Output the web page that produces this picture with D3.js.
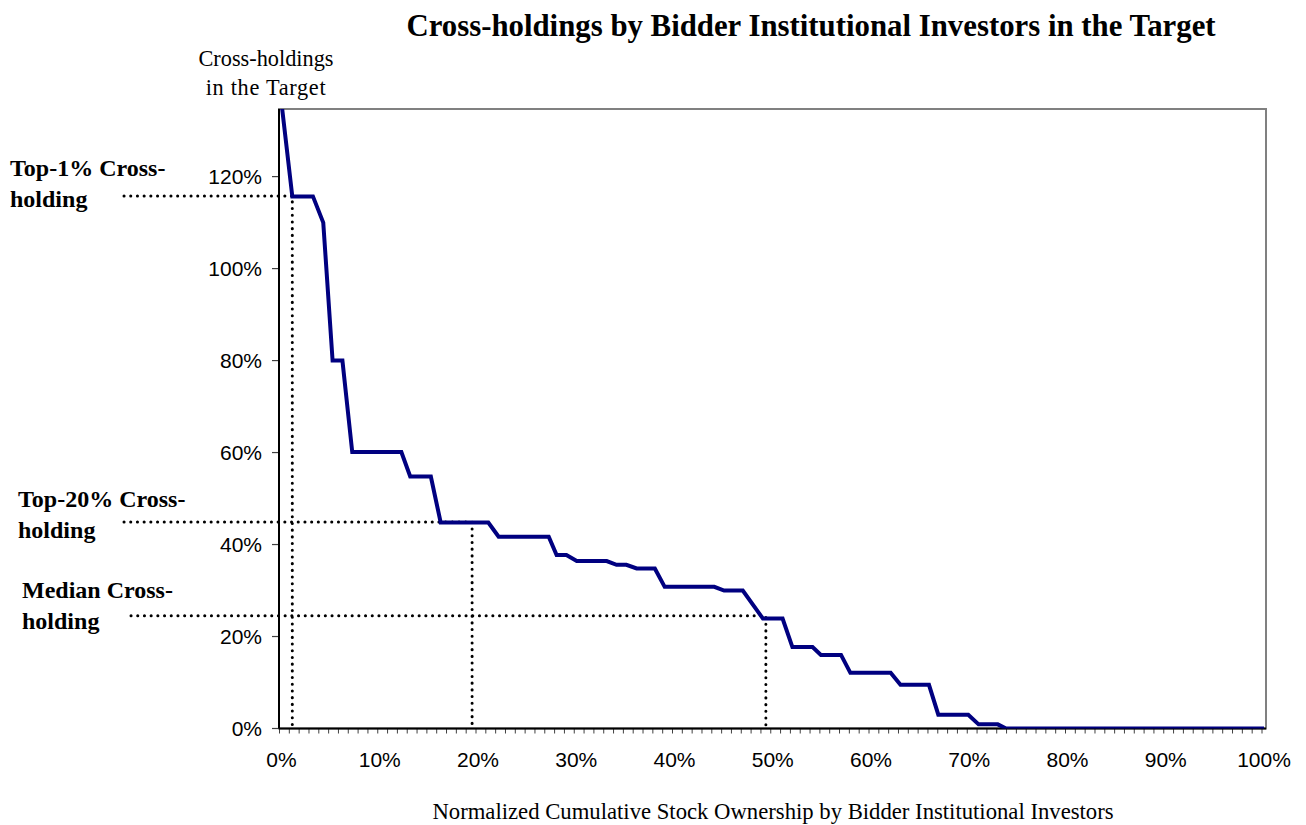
<!DOCTYPE html>
<html>
<head>
<meta charset="utf-8">
<script src="https://cdn.jsdelivr.net/npm/d3@7"></script>
<style>
  body { margin: 0; background: #fff; }
  svg { display: block; }
</style>
</head>
<body>
<div id="chart"></div>
<script>
// cumulative ownership (%)
const ownershipPct = [0, 1.1, 3.2, 4.25, 5.2, 6.2, 7.2, 12.2, 13.1, 15.2, 16.2, 21.05, 22.1, 27.2, 28.0, 29.0, 30.05,
  33.1, 34.1, 35.1, 36.15, 38.0, 39.0, 44.05, 45.05, 46.95, 49.0, 51.0, 52.0, 54.05, 54.9, 56.95, 57.9,
  62.0, 63.0, 65.9, 66.85, 69.9, 70.95, 72.9, 73.75, 100];
// cross-holdings in the target (%)
const crossHolding = [136, 115.7, 115.7, 110.0, 80.0, 80.0, 60.1, 60.1, 54.8, 54.8, 44.8, 44.8, 41.7, 41.7, 37.7, 37.7, 36.4,
  36.4, 35.6, 35.6, 34.8, 34.8, 30.8, 30.8, 30.0, 30.0, 23.9, 23.9, 17.7, 17.7, 16.0, 16.0, 12.1,
  12.1, 9.5, 9.5, 3.0, 3.0, 0.9, 0.9, 0, 0];

const yTicks = [0, 20, 40, 60, 80, 100, 120];
const xTicks = [0, 10, 20, 30, 40, 50, 60, 70, 80, 90, 100];

// reference markers: label lines, ownership x, holding y
const markerLabels = [["Top-1% Cross-", "holding"], ["Top-20% Cross-", "holding"], ["Median Cross-", "holding"]];
const markerX = [1.1, 19.4, 49.3];
const markerY = [115.8, 44.9, 24.5];

const width = 1306, height = 825;
const plotLeft = 279, plotRight = 1266, plotTop = 109, plotBottom = 728.5;

const x = d3.scaleLinear().domain([0, 100]).range([281.5, 1264]);
const y = d3.scaleLinear().domain([0, 134.7]).range([plotBottom, plotTop]);

const svg = d3.select("#chart").append("svg")
    .attr("width", width)
    .attr("height", height);

svg.append("defs").append("clipPath").attr("id", "plot")
  .append("rect")
    .attr("x", plotLeft).attr("y", plotTop)
    .attr("width", plotRight - plotLeft).attr("height", plotBottom - plotTop);

// plot frame
svg.append("rect")
    .attr("x", plotLeft).attr("y", plotTop)
    .attr("width", plotRight - plotLeft).attr("height", plotBottom - plotTop)
    .attr("fill", "none")
    .attr("stroke", "#808080")
    .attr("stroke-width", 2);

// x minor ticks every 1%
svg.append("g")
    .selectAll("line")
    .data(d3.range(0, 101))
    .join("line")
      .attr("x1", d => x(d) - 2).attr("x2", d => x(d) - 2)
      .attr("y1", plotBottom).attr("y2", plotBottom + 5)
      .attr("stroke", "#404040")
      .attr("stroke-width", 1);

svg.append("g")
    .attr("font-family", "Arial, 'Liberation Sans', sans-serif")
    .attr("font-size", 21)
    .attr("text-anchor", "middle")
    .selectAll("text")
    .data(xTicks)
    .join("text")
      .attr("x", d => x(d))
      .attr("y", 767)
      .text(d => d + "%");

// y ticks
const yAx = svg.append("g");
yAx.selectAll("line")
    .data(yTicks)
    .join("line")
      .attr("x1", plotLeft - 7).attr("x2", plotLeft)
      .attr("y1", d => y(d)).attr("y2", d => y(d))
      .attr("stroke", "#404040")
      .attr("stroke-width", 1.2);
yAx.selectAll("text")
    .data(yTicks)
    .join("text")
      .attr("x", 262)
      .attr("y", d => y(d))
      .attr("dy", "0.36em")
      .attr("text-anchor", "end")
      .attr("font-family", "Arial, 'Liberation Sans', sans-serif")
      .attr("font-size", 21)
      .text(d => d + "%");

// axes
svg.append("line")
    .attr("x1", plotLeft).attr("x2", plotLeft)
    .attr("y1", plotTop).attr("y2", plotBottom)
    .attr("stroke", "#000").attr("stroke-width", 2);
svg.append("line")
    .attr("x1", plotLeft).attr("x2", plotRight)
    .attr("y1", plotBottom).attr("y2", plotBottom)
    .attr("stroke", "#000").attr("stroke-width", 2);

// dotted marker lines
const labelStart = [124, 124, 131];
const dotted = svg.append("g")
    .attr("stroke", "#000")
    .attr("stroke-width", 3)
    .attr("stroke-linecap", "round")
    .attr("stroke-dasharray", "0.1 6.6")
    .attr("fill", "none");
markerX.forEach((mx, i) => {
  dotted.append("path")
      .attr("d", `M${labelStart[i]},${y(markerY[i])}H${x(mx)}V${plotBottom}`);
});

// data line
const points = ownershipPct.map((p, i) => [p, crossHolding[i]]);
svg.append("path")
    .datum(points)
    .attr("clip-path", "url(#plot)")
    .attr("fill", "none")
    .attr("stroke", "#000080")
    .attr("stroke-width", 4)
    .attr("stroke-linejoin", "miter")
    .attr("d", d3.line().x(d => x(d[0])).y(d => y(d[1])));

// marker labels
const labelBase = [176, 507, 598];
const labelLeft = [10, 18, 22];
markerLabels.forEach((lines, i) => {
  const t = svg.append("text")
      .attr("font-family", "'Times New Roman', 'Liberation Serif', serif")
      .attr("font-weight", "bold")
      .attr("font-size", 24)
      .attr("x", labelLeft[i])
      .attr("y", labelBase[i]);
  lines.forEach((s, j) => {
    t.append("tspan").attr("x", labelLeft[i]).attr("dy", j ? 31 : 0).text(s);
  });
});

// titles
svg.append("text")
    .attr("x", 811).attr("y", 36)
    .attr("text-anchor", "middle")
    .attr("font-family", "'Times New Roman', 'Liberation Serif', serif")
    .attr("font-weight", "bold")
    .attr("font-size", 30.8)
    .text("Cross-holdings by Bidder Institutional Investors in the Target");

const yTitle = svg.append("text")
    .attr("text-anchor", "middle")
    .attr("font-family", "'Times New Roman', 'Liberation Serif', serif")
    .attr("font-size", 22.3);
yTitle.append("tspan").attr("x", 266).attr("y", 66).text("Cross-holdings");
yTitle.append("tspan").attr("x", 266).attr("y", 95).attr("letter-spacing", 0.7).text("in the Target");

svg.append("text")
    .attr("x", 773).attr("y", 819)
    .attr("text-anchor", "middle")
    .attr("font-family", "'Times New Roman', 'Liberation Serif', serif")
    .attr("font-size", 22.7)
    .text("Normalized Cumulative Stock Ownership by Bidder Institutional Investors");
</script>
</body>
</html>
